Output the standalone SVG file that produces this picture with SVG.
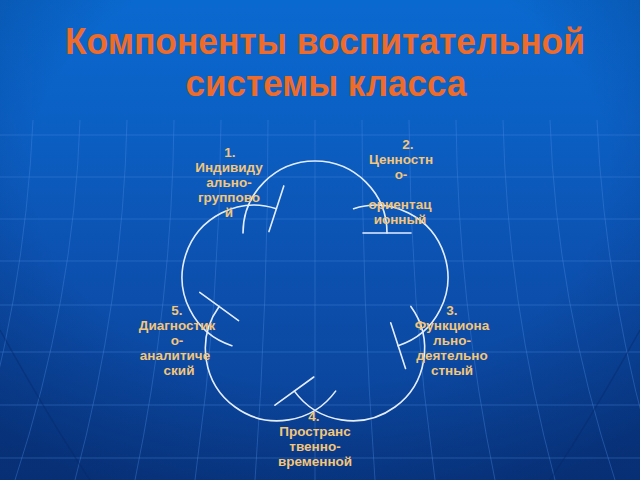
<svg xmlns="http://www.w3.org/2000/svg" width="640" height="480" viewBox="0 0 640 480">
<defs>
<linearGradient id="bg" x1="0" y1="0" x2="0" y2="1">
<stop offset="0" stop-color="#0a69cf"/>
<stop offset="0.25" stop-color="#0b60c4"/>
<stop offset="0.55" stop-color="#0c51b0"/>
<stop offset="1" stop-color="#0a3f92"/>
</linearGradient>
<radialGradient id="vig" cx="0.5" cy="0.35" r="0.75">
<stop offset="0.6" stop-color="#000a30" stop-opacity="0"/>
<stop offset="1" stop-color="#000a30" stop-opacity="0.3"/>
</radialGradient>
<style>
.grid{fill:none;stroke:#4a8ae0;stroke-width:1;opacity:0.38}
.gridd{fill:none;stroke:#062a6a;stroke-width:1.5;opacity:0.45}
.arc{fill:none;stroke:#e4eeff;stroke-width:1.6;stroke-linecap:round}
.title{font-family:"Liberation Sans",Arial,sans-serif;font-weight:bold;font-size:37px;fill:#ef6b29;text-anchor:middle}
.lbl{font-family:"Liberation Sans",Arial,sans-serif;font-weight:bold;font-size:13.5px;fill:#f3c67a;text-anchor:middle}
</style>
</defs>
<rect width="640" height="480" fill="url(#bg)"/>
<rect width="640" height="480" fill="url(#vig)"/>
<g id="background-grid">
<path class="grid" d="M0,135 H640 M0,177 H640 M0,219 H640 M0,261 H640 M0,305 H640 M0,352 H640 M0,405 H640 M0,458 H640"/>
<path class="grid" d="M315,120 V480 M362,120 Q362,300 375,480 M268,120 Q268,300 255,480 M409,120 Q410,300 435,480 M221,120 Q220,300 195,480 M456,120 Q458,300 495,480 M174,120 Q172,300 135,480 M503,120 Q507,300 555,480 M127,120 Q123,300 75,480 M550,120 Q556,300 615,480 M80,120 Q74,300 15,480 M597,120 Q605,300 660,480 M33,120 Q25,300 -30,480"/>
<path class="gridd" d="M0,330 Q50,420 90,480 M640,330 Q590,420 550,480"/>
</g>
<g id="title">
<text class="title" x="325" y="54" textLength="520" lengthAdjust="spacingAndGlyphs">Компоненты воспитательной</text>
<text class="title" x="326" y="96" textLength="281" lengthAdjust="spacingAndGlyphs">системы класса</text>
</g>
<g id="connectors">
<path class="arc" d="M243,233 A72,72 0 0 1 387,233"/>
<path class="arc" d="M363,233 L411,233"/>
<path class="arc" d="M353.62,208.74 A72,72 0 0 1 398.12,345.70"/>
<path class="arc" d="M390.70,322.87 L405.54,368.53"/>
<path class="arc" d="M410.87,306.46 A72,72 0 0 1 294.37,391.10"/>
<path class="arc" d="M274.95,405.21 L313.79,376.99"/>
<path class="arc" d="M335.63,391.10 A72,72 0 0 1 219.13,306.46"/>
<path class="arc" d="M199.71,292.35 L238.55,320.57"/>
<path class="arc" d="M231.88,345.70 A72,72 0 0 1 276.38,208.74"/>
<path class="arc" d="M268.96,231.57 L283.80,185.91"/>
</g>
<g id="node1">
<text class="lbl" x="230" y="157">1.</text>
<text class="lbl" x="229" y="172">Индивиду</text>
<text class="lbl" x="229" y="187">ально-</text>
<text class="lbl" x="229" y="202">группово</text>
<text class="lbl" x="229" y="217">й</text>
</g>
<g id="node2">
<text class="lbl" x="408" y="149">2.</text>
<text class="lbl" x="401" y="164">Ценностн</text>
<text class="lbl" x="401" y="179">о-</text>
<text class="lbl" x="400" y="209">ориентац</text>
<text class="lbl" x="400" y="224">ионный</text>
</g>
<g id="node3">
<text class="lbl" x="452" y="315">3.</text>
<text class="lbl" x="452" y="330">Функциона</text>
<text class="lbl" x="452" y="345">льно-</text>
<text class="lbl" x="452" y="360">деятельно</text>
<text class="lbl" x="452" y="375">стный</text>
</g>
<g id="node4">
<text class="lbl" x="314" y="421">4.</text>
<text class="lbl" x="315" y="436">Пространс</text>
<text class="lbl" x="315" y="451">твенно-</text>
<text class="lbl" x="315" y="466">временной</text>
</g>
<g id="node5">
<text class="lbl" x="177" y="315">5.</text>
<text class="lbl" x="177" y="330">Диагностик</text>
<text class="lbl" x="177" y="345">о-</text>
<text class="lbl" x="175" y="360">аналитиче</text>
<text class="lbl" x="179" y="375">ский</text>
</g>
</svg>
